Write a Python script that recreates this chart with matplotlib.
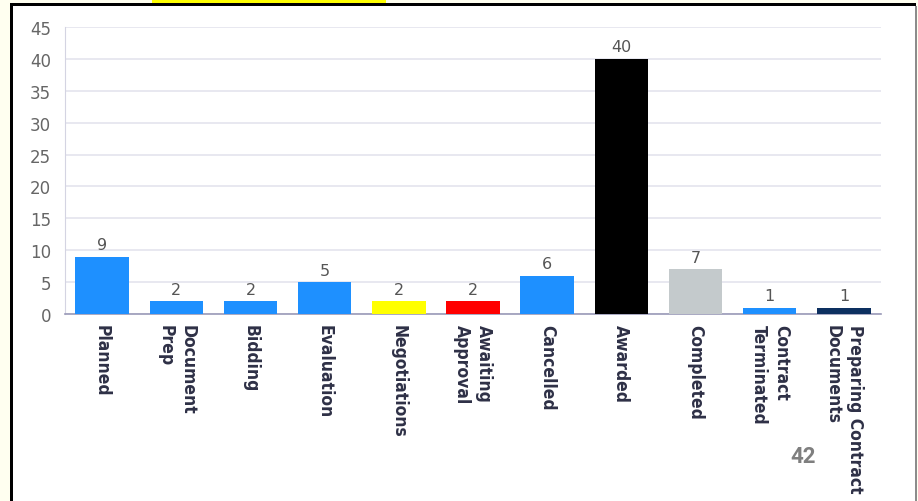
import matplotlib.pyplot as plt
from matplotlib.patches import Rectangle

categories = ['Planned', 'Document\nPrep', 'Bidding', 'Evaluation', 'Negotiations',
              'Awaiting\nApproval', 'Cancelled', 'Awarded', 'Completed',
              'Contract\nTerminated', 'Preparing Contract\nDocuments']
values = [9, 2, 2, 5, 2, 2, 6, 40, 7, 1, 1]
colors = ['#1e90ff', '#1e90ff', '#1e90ff', '#1e90ff', '#ffff00', '#ff0000',
          '#1e90ff', '#000000', '#c4cacc', '#1e90ff', '#0d3060']
yticks = [0, 5, 10, 15, 20, 25, 30, 35, 40, 45]
page_number = '42'

W, H = 918, 502
fig = plt.figure(figsize=(W / 100, H / 100), dpi=100)
fig.patch.set_facecolor('#fffff0')


def px(x0, y0, x1, y1, **kw):
    # rectangle given in pixel coords (top-left origin)
    r = Rectangle((x0 / W, 1 - y1 / H), (x1 - x0) / W, (y1 - y0) / H,
                  transform=fig.transFigure, **kw)
    fig.add_artist(r)


# slide frame
px(13, 7, 916, H + 5, facecolor='white', edgecolor='none', zorder=0)
px(10, 4, 13, H + 5, facecolor='black', edgecolor='none', zorder=1)
px(10, 4, 916, 7, facecolor='black', edgecolor='none', zorder=1)
px(915, 7, 917, H + 5, facecolor='#8c8c8c', edgecolor='none', zorder=1)
px(152, 0, 386, 4, facecolor='#ffff00', edgecolor='none', zorder=1)

ax = fig.add_axes([65 / W, 1 - 315 / H, (881 - 65) / W, (315 - 28) / H])
ax.set_facecolor('none')

x = range(len(categories))
bars = ax.bar(x, values, width=0.72, color=colors, zorder=3)

for b, v in zip(bars, values):
    ax.text(b.get_x() + b.get_width() / 2, v + 0.7, str(v), ha='center', va='bottom',
            fontsize=11.5, color='#555555', zorder=4)

ax.set_xlim(-0.5, len(categories) - 0.5)
ax.set_ylim(0, 45)
ax.set_yticks(yticks)
ax.yaxis.grid(True, color='#e4e4ee', linewidth=1.2, zorder=0)
ax.set_axisbelow(True)

for s in ['top', 'right']:
    ax.spines[s].set_visible(False)
ax.spines['left'].set_color('#d4d4e2')
ax.spines['bottom'].set_color('#9a9ab8')
ax.spines['bottom'].set_linewidth(1.2)

ax.tick_params(axis='y', length=0, pad=10, labelsize=12, labelcolor='#666666')
ax.tick_params(axis='x', length=0, pad=7)
ax.set_xticks(list(x))
ax.set_xticklabels(categories, rotation=-90, ha='center', va='top',
                   fontsize=12.5, fontweight='bold', fontstretch='condensed',
                   color='#2e3046', linespacing=1.3)
for lbl in ax.get_xticklabels():
    lbl.set_multialignment('left')

fig.text(790 / W, 1 - 468 / H, page_number, fontsize=16, fontweight='bold',
         family=['Roboto', 'DejaVu Sans'], color='#7f7f7f', ha='left', va='bottom')

fig.savefig('out.png', dpi=100, facecolor=fig.get_facecolor())
